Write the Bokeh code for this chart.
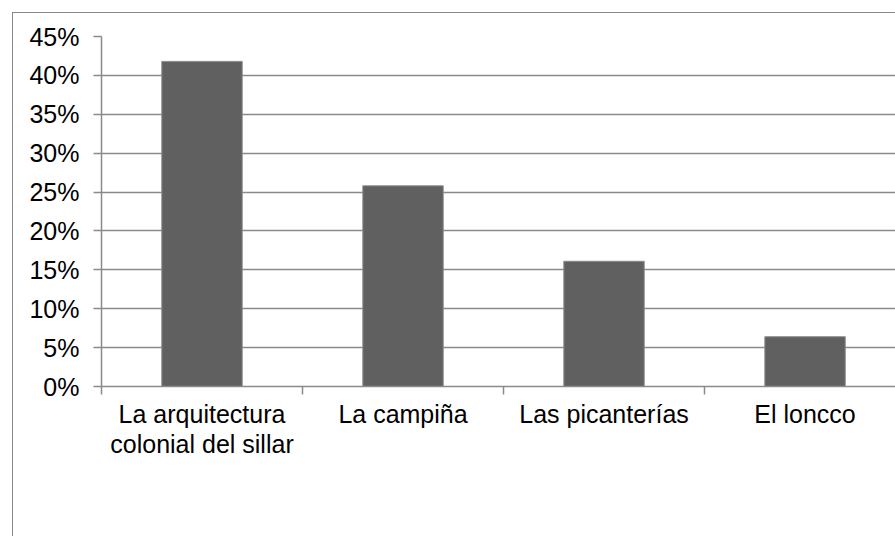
from bokeh.plotting import figure
from bokeh.models import Range1d, FixedTicker, NumeralTickFormatter, ColumnDataSource
from bokeh.embed import file_html
from bokeh.resources import INLINE

categories = ["La arquitectura\ncolonial del sillar", "La campiña", "Las picanterías", "El loncco"]
values = [0.418, 0.258, 0.161, 0.064]
positions = [0.5, 1.5, 2.5, 3.5]
y_ticks = [0.0, 0.05, 0.10, 0.15, 0.20, 0.25, 0.30, 0.35, 0.40, 0.45]

FONT = "Liberation Sans"
GRID = "#8a8a8a"

p = figure(width=883, height=524, output_backend="svg", toolbar_location=None,
           x_range=Range1d(0, 3.955), y_range=Range1d(0, 0.45),
           min_border_left=88, min_border_top=23, min_border_right=0, min_border_bottom=151)
p.margin = (12, 0, 0, 12)
p.styles = {"border-left": "1px solid #8a8a8a", "border-top": "1px solid #8a8a8a"}
p.outline_line_color = None
p.background_fill_color = "white"
p.border_fill_color = "white"

src = ColumnDataSource(dict(x=positions, top=values))
p.vbar(x="x", top="top", width=0.4, bottom=0, source=src,
       fill_color="#606060", line_color="#8c8c8c", line_width=1)

# y axis
p.yaxis.ticker = FixedTicker(ticks=y_ticks)
p.yaxis.formatter = NumeralTickFormatter(format="0%")
p.yaxis.major_label_text_font = FONT
p.yaxis.major_label_text_font_size = "25px"
p.yaxis.major_label_text_color = "black"
p.yaxis.major_tick_out = 8
p.yaxis.major_tick_in = 0
p.yaxis.minor_tick_out = 0
p.yaxis.minor_tick_in = 0
p.yaxis.major_label_standoff = 14
p.yaxis.axis_line_color = GRID
p.yaxis.major_tick_line_color = GRID
p.yaxis.axis_line_width = 1.5
p.yaxis.major_tick_line_width = 1.5

# x axis
p.xaxis.ticker = FixedTicker(ticks=positions, minor_ticks=[0, 1, 2, 3, 4])
p.xaxis.major_label_overrides = {pos: lab for pos, lab in zip(positions, categories)}
p.xaxis.major_label_text_font = FONT
p.xaxis.major_label_text_font_size = "25px"
p.xaxis.major_label_text_color = "black"
p.xaxis.major_label_text_line_height = 1.1
p.xaxis.major_tick_out = 8
p.xaxis.major_tick_in = 0
p.xaxis.major_tick_line_color = None
p.xaxis.minor_tick_out = 8
p.xaxis.minor_tick_in = 0
p.xaxis.minor_tick_line_color = GRID
p.xaxis.minor_tick_line_width = 1.5
p.xaxis.axis_line_color = GRID
p.xaxis.axis_line_width = 1.5
p.xaxis.major_label_standoff = 5

p.xgrid.grid_line_color = None
p.ygrid.ticker = FixedTicker(ticks=y_ticks)
p.ygrid.grid_line_color = GRID
p.ygrid.grid_line_width = 1.5

open("out.html", "w").write(file_html(p, INLINE))
